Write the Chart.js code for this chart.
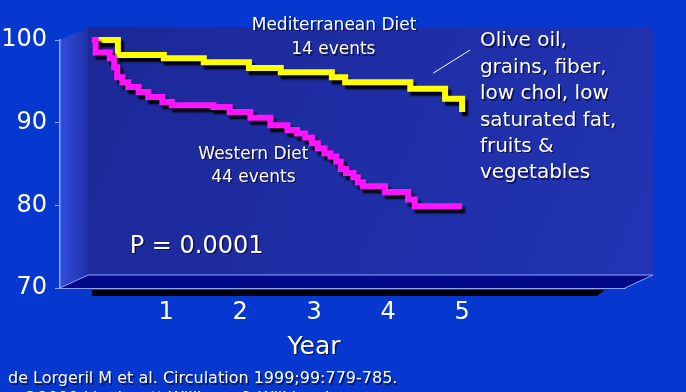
<!DOCTYPE html>
<html>
<head>
<meta charset="utf-8">
<style>
  html, body { margin: 0; padding: 0; background: #0638d0; }
  canvas { display: block; }
</style>
<script src="https://cdn.jsdelivr.net/npm/chart.js@4/dist/chart.umd.min.js"></script>
</head>
<body>
<canvas id="chart" width="686" height="392"></canvas>
<script>
// x axis = years of follow-up, y axis = % without event
const yearTicks = [1, 2, 3, 4, 5];
const valueTicks = [70, 80, 90, 100];

const medYears = [0, 0.35, 0.97, 1.51, 2.12, 2.55, 3.24, 3.42, 4.30, 4.77, 5.0];
const medValues = [100, 98.2, 97.8, 97.3, 96.6, 96.1, 95.5, 94.9, 94.1, 92.9, 91.3];

const westYears = [0, 0.05, 0.24, 0.30, 0.34, 0.41, 0.49, 0.63, 0.76, 0.95, 1.08, 1.64, 1.86,
  2.14, 2.41, 2.64, 2.77, 2.88, 2.97, 3.05, 3.14, 3.22, 3.30, 3.36, 3.43, 3.53, 3.59, 3.66,
  3.96, 4.27, 4.36, 5.0];
const westValues = [100, 98.5, 97.8, 96.7, 95.5, 94.9, 94.3, 93.7, 93.1, 92.5, 92.1, 91.9, 91.3,
  90.6, 89.7, 89.1, 88.7, 88.2, 87.5, 86.9, 86.3, 85.9, 85.3, 84.4, 83.9, 83.4, 82.8, 82.3,
  81.6, 80.7, 79.9, 79.9];

const FONT = "'DejaVu Sans', Verdana, sans-serif";
const AXIS_BLUE = "#8ea6ff";

function toPoints(xs, ys) {
  return xs.map((x, i) => ({ x: x, y: ys[i] }));
}

// slide background + the fake 3D box behind the plot
const panelPlugin = {
  id: "panel",
  beforeDraw(chart) {
    const { ctx, chartArea: a } = chart;
    const dx = 28, dy = -13;
    ctx.save();
    ctx.fillStyle = "#0638d0";
    ctx.fillRect(0, 0, chart.width, chart.height);

    // back wall
    const g = ctx.createLinearGradient(a.left + dx, a.top + dy, a.right + dx, a.bottom + dy);
    g.addColorStop(0, "#1c2896");
    g.addColorStop(1, "#2234b4");
    ctx.fillStyle = g;
    ctx.fillRect(a.left + dx, a.top + dy, a.right - a.left, a.bottom - a.top);

    // left wall
    const lg = ctx.createLinearGradient(a.left, 0, a.left + dx, 0);
    lg.addColorStop(0, "#2f4fe0");
    lg.addColorStop(1, "#1e30a6");
    ctx.fillStyle = lg;
    ctx.beginPath();
    ctx.moveTo(a.left, a.top);
    ctx.lineTo(a.left + dx, a.top + dy);
    ctx.lineTo(a.left + dx, a.bottom + dy);
    ctx.lineTo(a.left, a.bottom);
    ctx.closePath();
    ctx.fill();

    // shadow under the floor
    ctx.fillStyle = "#02020c";
    ctx.beginPath();
    ctx.moveTo(a.left + 32, a.bottom + 2);
    ctx.lineTo(a.right - 20, a.bottom + 2);
    ctx.lineTo(a.right - 28, a.bottom + 8);
    ctx.lineTo(a.left + 32, a.bottom + 8);
    ctx.closePath();
    ctx.fill();

    // floor
    ctx.fillStyle = "#020a8a";
    ctx.beginPath();
    ctx.moveTo(a.left, a.bottom);
    ctx.lineTo(a.right, a.bottom);
    ctx.lineTo(a.right + dx, a.bottom + dy);
    ctx.lineTo(a.left + dx, a.bottom + dy);
    ctx.closePath();
    ctx.fill();
    ctx.strokeStyle = AXIS_BLUE;
    ctx.lineWidth = 1;
    ctx.beginPath();
    ctx.moveTo(a.left, a.bottom);
    ctx.lineTo(a.left + dx, a.bottom + dy);
    ctx.lineTo(a.right + dx, a.bottom + dy);
    ctx.lineTo(a.right, a.bottom);
    ctx.stroke();
    ctx.restore();
  },
};

// black drop shadow under the two curves
const shadowPlugin = {
  id: "lineShadow",
  beforeDatasetDraw(chart) {
    const ctx = chart.ctx;
    ctx.save();
    ctx.shadowColor = "rgba(0,0,0,0.95)";
    ctx.shadowOffsetX = 3;
    ctx.shadowOffsetY = 4;
    ctx.shadowBlur = 2;
  },
  afterDatasetDraw(chart) {
    chart.ctx.restore();
  },
};

// slide texts, placed in data units
const textPlugin = {
  id: "slideText",
  afterDraw(chart) {
    const { ctx, scales } = chart;
    const px = (v) => scales.x.getPixelForValue(v);
    const py = (v) => scales.y.getPixelForValue(v);

    function text(str, x, y, size, align) {
      ctx.font = size + "px " + FONT;
      ctx.textAlign = align || "center";
      ctx.textBaseline = "middle";
      ctx.fillStyle = "rgba(0,0,20,0.6)";
      ctx.fillText(str, x + 1.5, y + 1.5);
      ctx.fillStyle = "#ffffff";
      ctx.fillText(str, x, y);
    }

    ctx.save();
    text("Mediterranean Diet", px(3.27), py(101.75), 17);
    text("14 events", px(3.26), py(98.8), 17);
    text("Western Diet", px(2.18), py(86.2), 17);
    text("44 events", px(2.18), py(83.4), 17);
    text("P = 0.0001", px(0.51), py(75.0), 24, "left");

    const notes = ["Olive oil,", "grains, fiber,", "low chol, low", "saturated fat,", "fruits &", "vegetables"];
    notes.forEach((line, i) => text(line, px(5.24), py(99.85 - i * 3.19), 20, "left"));

    ctx.strokeStyle = "#ffffff";
    ctx.lineWidth = 1;
    ctx.beginPath();
    ctx.moveTo(px(4.61), py(96.0));
    ctx.lineTo(px(5.11), py(98.8));
    ctx.stroke();

    text("Year", px(3.0), 347, 25);
    text("de Lorgeril M et al. Circulation 1999;99:779-785.", 8, 379, 16, "left");
    text("\u00a91999 Lippincott Williams & Wilkins, Inc.", 22, 399, 16, "left");
    ctx.restore();
  },
};

new Chart(document.getElementById("chart"), {
  type: "line",
  data: {
    datasets: [
      {
        label: "Western Diet",
        data: toPoints(westYears, westValues),
        borderColor: "#ff14ff",
        borderWidth: 6,
        stepped: "before",
        pointRadius: 0,
        clip: false,
      },
      {
        label: "Mediterranean Diet",
        data: toPoints(medYears, medValues),
        borderColor: "#ffff00",
        borderWidth: 6,
        stepped: "before",
        pointRadius: 0,
        clip: false,
      },
    ],
  },
  options: {
    responsive: false,
    animation: false,
    layout: { padding: { top: 40, right: 61, left: 0, bottom: 0 } },
    plugins: {
      legend: { display: false },
      tooltip: { enabled: false },
    },
    scales: {
      x: {
        type: "linear",
        min: -0.432,
        max: 7.2,
        afterBuildTicks: (scale) => {
          scale.ticks = yearTicks.map((v) => ({ value: v }));
        },
        afterFit: (scale) => {
          scale.height = 104;
        },
        grid: { display: false, drawTicks: false },
        border: { display: true, color: AXIS_BLUE, width: 1 },
        ticks: {
          color: "#ffffff",
          font: { family: FONT, size: 24 },
          padding: 10,
          maxRotation: 0,
        },
      },
      y: {
        min: 70,
        max: 100,
        afterBuildTicks: (scale) => {
          scale.ticks = valueTicks.map((v) => ({ value: v }));
        },
        afterFit: (scale) => {
          scale.width = 60;
        },
        grid: { drawOnChartArea: false, color: AXIS_BLUE, tickLength: 5 },
        border: { display: true, color: AXIS_BLUE, width: 1.5 },
        ticks: {
          color: "#ffffff",
          font: { family: FONT, size: 24 },
          padding: 8,
        },
      },
    },
  },
  plugins: [panelPlugin, shadowPlugin, textPlugin],
});
</script>
</body>
</html>
